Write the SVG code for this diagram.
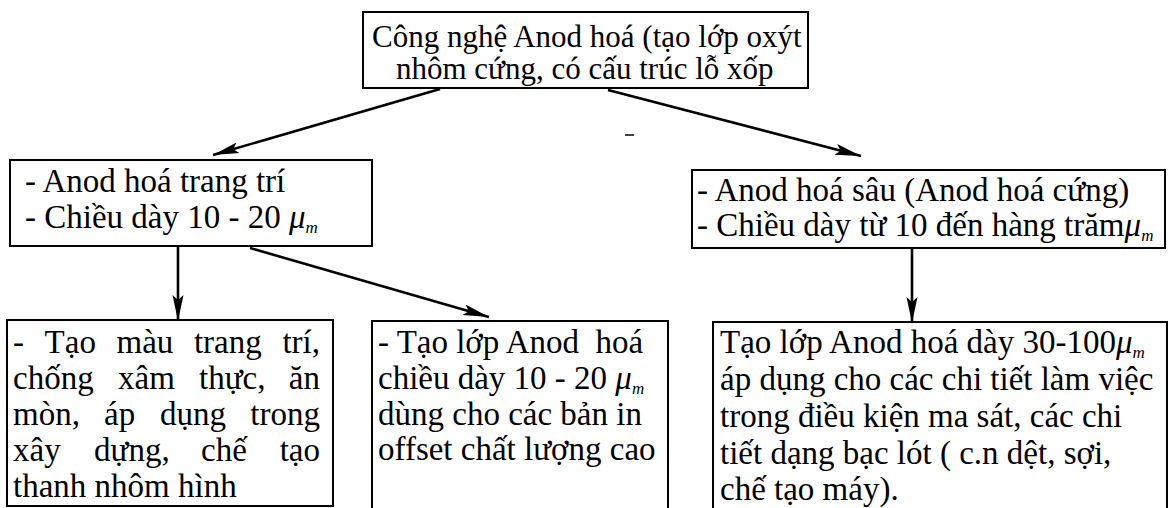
<svg xmlns="http://www.w3.org/2000/svg" width="1172" height="508" viewBox="0 0 1172 508">
  <style>
    .box { fill: #fff; stroke: #000; stroke-width: 2; }
    .t { font-family: "Liberation Serif", "Times New Roman", serif; font-size: 33px; fill: #000; }
    .top { font-size: 31px; }
    .mu { font-style: italic; }
    .sub { font-style: italic; font-size: 17px; }
    .edge { stroke: #000; stroke-width: 2.6; fill: none; marker-end: url(#head); }
  </style>
  <defs>
    <marker id="head" markerUnits="userSpaceOnUse" markerWidth="28" markerHeight="12" refX="26" refY="6" orient="auto">
      <path d="M0,0.5 L26,6 L0,11.5 L5,6 Z" fill="#000"/>
    </marker>
  </defs>

  <rect width="1172" height="508" fill="#fff"/>

  <!-- root: anodising technology -->
  <g id="n-root">
    <rect class="box" x="363" y="12" width="445" height="76"/>
    <text class="t top" x="372" y="47">Công nghệ Anod hoá (tạo lớp oxýt</text>
    <text class="t top" x="396" y="79">nhôm cứng, có cấu trúc lỗ xốp</text>
  </g>

  <!-- decorative anodising -->
  <g id="n-decor">
    <rect class="box" x="10" y="160" width="362" height="86"/>
    <text class="t" x="25" y="192">- Anod hoá trang trí</text>
    <text class="t" x="25" y="228">- Chiều dày 10 - 20 <tspan class="mu">μ</tspan><tspan class="sub" dy="5">m</tspan></text>
  </g>

  <!-- hard anodising -->
  <g id="n-hard">
    <rect class="box" x="692" y="170" width="473" height="78"/>
    <text class="t" x="697" y="201">- Anod hoá sâu (Anod hoá cứng)</text>
    <text class="t" x="697" y="236">- Chiều dày từ 10 đến hàng trăm<tspan class="mu">μ</tspan><tspan class="sub" dy="5">m</tspan></text>
  </g>

  <!-- colour / corrosion use (justified lines) -->
  <g id="n-colour">
    <rect class="box" x="7" y="320" width="326" height="186"/>
    <text class="t" y="353"><tspan x="13">-</tspan><tspan x="44.6">Tạo</tspan><tspan x="116.5">màu</tspan><tspan x="193.9">trang</tspan><tspan x="320" text-anchor="end">trí,</tspan></text>
    <text class="t" y="389"><tspan x="13">chống</tspan><tspan x="118">xâm</tspan><tspan x="199">thực,</tspan><tspan x="320" text-anchor="end">ăn</tspan></text>
    <text class="t" y="425"><tspan x="13">mòn,</tspan><tspan x="104">áp</tspan><tspan x="160">dụng</tspan><tspan x="320" text-anchor="end">trong</tspan></text>
    <text class="t" y="461"><tspan x="13">xây</tspan><tspan x="94">dựng,</tspan><tspan x="201">chế</tspan><tspan x="320" text-anchor="end">tạo</tspan></text>
    <text class="t" x="13" y="497">thanh nhôm hình</text>
  </g>

  <!-- offset printing plates -->
  <g id="n-offset">
    <rect class="box" x="372" y="321" width="296" height="195"/>
    <text class="t" x="378" y="353" xml:space="preserve">- Tạo lớp Anod  hoá</text>
    <text class="t" x="378" y="389">chiều dày 10 - 20 <tspan class="mu">μ</tspan><tspan class="sub" dy="5">m</tspan></text>
    <text class="t" x="378" y="425">dùng cho các bản in</text>
    <text class="t" x="378" y="460">offset chất lượng cao</text>
  </g>

  <!-- friction parts -->
  <g id="n-friction">
    <rect class="box" x="713" y="322" width="454" height="194"/>
    <text class="t" x="720" y="353">Tạo lớp Anod hoá dày 30-100<tspan class="mu">μ</tspan><tspan class="sub" dy="5">m</tspan></text>
    <text class="t" x="720" y="390">áp dụng cho các chi tiết làm việc</text>
    <text class="t" x="720" y="427">trong điều kiện ma sát, các chi</text>
    <text class="t" x="720" y="464">tiết dạng bạc lót ( c.n dệt, sợi,</text>
    <text class="t" x="720" y="500">chế tạo máy).</text>
  </g>

  <g id="connectors">
    <line class="edge" x1="440" y1="89" x2="213" y2="155"/>
    <line class="edge" x1="608" y1="90" x2="861" y2="156"/>
    <line class="edge" x1="178" y1="246" x2="178" y2="321"/>
    <line class="edge" x1="250" y1="248" x2="489" y2="317"/>
    <line class="edge" x1="912" y1="249" x2="912" y2="323"/>
    <line x1="625" y1="135" x2="634" y2="135" stroke="#000" stroke-width="1.5"/>
  </g>
</svg>
